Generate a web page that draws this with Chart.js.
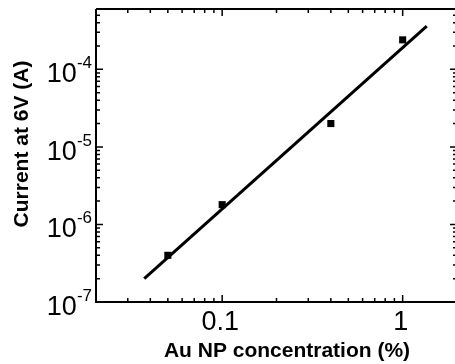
<!DOCTYPE html>
<html>
<head>
<meta charset="utf-8">
<script src="https://cdn.jsdelivr.net/npm/chart.js@4.4.1/dist/chart.umd.min.js"></script>
<style>
  html, body { margin: 0; padding: 0; background: #fff; overflow: hidden; }
  #wrap { width: 462px; height: 364px; }
</style>
</head>
<body>
<div id="wrap"><canvas id="chart"></canvas></div>
<script>
// measured points (concentration %, current A)
const concentration = [0.05, 0.1, 0.4, 1];
const current = [4.0e-7, 1.8e-6, 2.0e-5, 2.4e-4];

// linear fit on log-log, drawn as two end points
const fitX = [0.037, 1.36];
const fitY = [2.0e-7, 3.6e-4];

const xMajorTicks = [0.1, 1];
const xMajorLabels = ['0.1', '1'];
const yMajorTicks = [1e-7, 1e-6, 1e-5, 1e-4];
const yMajorExps = ['-7', '-6', '-5', '-4'];

const xMin = 0.02, xMax = 2;
const yMin = 1e-7, yMax = 6e-4;

const FONT = '"Liberation Sans", Arial, sans-serif';

function minorTicks(min, max) {
  const out = [];
  let dec = Math.pow(10, Math.floor(Math.log10(min)));
  while (dec <= max) {
    for (let m = 1; m < 10; m++) {
      const v = +(m * dec).toPrecision(6);
      if (v >= min * 0.999 && v <= max * 1.001) out.push(v);
    }
    dec *= 10;
  }
  return out;
}

const axesPlugin = {
  id: 'axesPlugin',
  afterDraw(chart) {
    const ctx = chart.ctx;
    const a = chart.chartArea;
    const xs = chart.scales.x, ys = chart.scales.y;
    ctx.save();
    ctx.strokeStyle = '#000';
    ctx.fillStyle = '#000';

    // box
    ctx.lineWidth = 2;
    ctx.beginPath();
    ctx.moveTo(a.left, a.top);
    ctx.lineTo(a.left, a.bottom);
    ctx.lineTo(a.right, a.bottom);
    ctx.lineTo(a.right, a.top);
    ctx.lineTo(a.left, a.top);
    ctx.stroke();

    // ticks, pointing inward
    ctx.lineWidth = 1.5;
    ctx.beginPath();
    minorTicks(xMin, xMax).forEach(v => {
      const px = xs.getPixelForValue(v);
      const len = xMajorTicks.includes(v) ? 7 : 4;
      ctx.moveTo(px, a.bottom); ctx.lineTo(px, a.bottom - len);
      ctx.moveTo(px, a.top); ctx.lineTo(px, a.top + len);
    });
    minorTicks(yMin, yMax).forEach(v => {
      const py = ys.getPixelForValue(v);
      const len = yMajorTicks.some(t => Math.abs(t - v) / t < 1e-6) ? 7 : 4;
      ctx.moveTo(a.left, py); ctx.lineTo(a.left + len, py);
      ctx.moveTo(a.right, py); ctx.lineTo(a.right - len, py);
    });
    ctx.stroke();

    // x tick labels
    ctx.font = '27px ' + FONT;
    ctx.textAlign = 'center';
    ctx.textBaseline = 'alphabetic';
    xMajorTicks.forEach((v, i) => {
      ctx.fillText(xMajorLabels[i], xs.getPixelForValue(v) - 2, 330);
    });

    // y tick labels: 10 with superscript exponent
    yMajorTicks.forEach((v, i) => {
      const py = ys.getPixelForValue(v);
      ctx.font = '17px ' + FONT;
      const we = ctx.measureText(yMajorExps[i]).width;
      ctx.textAlign = 'left';
      ctx.fillText(yMajorExps[i], 92 - we, py - 1);
      ctx.font = '27px ' + FONT;
      const wb = ctx.measureText('10').width;
      ctx.fillText('10', 92 - we - wb, py + 13);
    });

    // axis titles
    ctx.font = 'bold 21px ' + FONT;
    ctx.textAlign = 'center';
    ctx.fillText('Au NP concentration (%)', 287, 357);
    ctx.save();
    ctx.translate(28, 144);
    ctx.rotate(-Math.PI / 2);
    ctx.fillText('Current at 6V (A)', 0, 0);
    ctx.restore();

    ctx.restore();
  }
};

new Chart(document.getElementById('chart'), {
  type: 'scatter',
  data: {
    datasets: [
      {
        label: 'data',
        data: concentration.map((c, i) => ({ x: c, y: current[i] })),
        pointStyle: 'rect',
        pointRadius: 5,
        backgroundColor: '#000',
        borderColor: '#000',
        borderWidth: 0
      },
      {
        label: 'fit',
        data: fitX.map((c, i) => ({ x: c, y: fitY[i] })),
        showLine: true,
        borderColor: '#000',
        borderWidth: 3,
        pointRadius: 0
      }
    ]
  },
  options: {
    responsive: true,
    maintainAspectRatio: false,
    animation: false,
    layout: { padding: { top: 9, right: 4.5, left: 0, bottom: 0 } },
    scales: {
      x: {
        type: 'logarithmic',
        min: xMin,
        max: xMax,
        grid: { display: false },
        border: { display: false },
        ticks: { display: false },
        afterFit(scale) { scale.height = 62; }
      },
      y: {
        type: 'logarithmic',
        min: yMin,
        max: yMax,
        grid: { display: false },
        border: { display: false },
        ticks: { display: false },
        afterFit(scale) { scale.width = 96; }
      }
    },
    plugins: {
      legend: { display: false },
      tooltip: { enabled: false }
    }
  },
  plugins: [axesPlugin]
});
</script>
</body>
</html>
